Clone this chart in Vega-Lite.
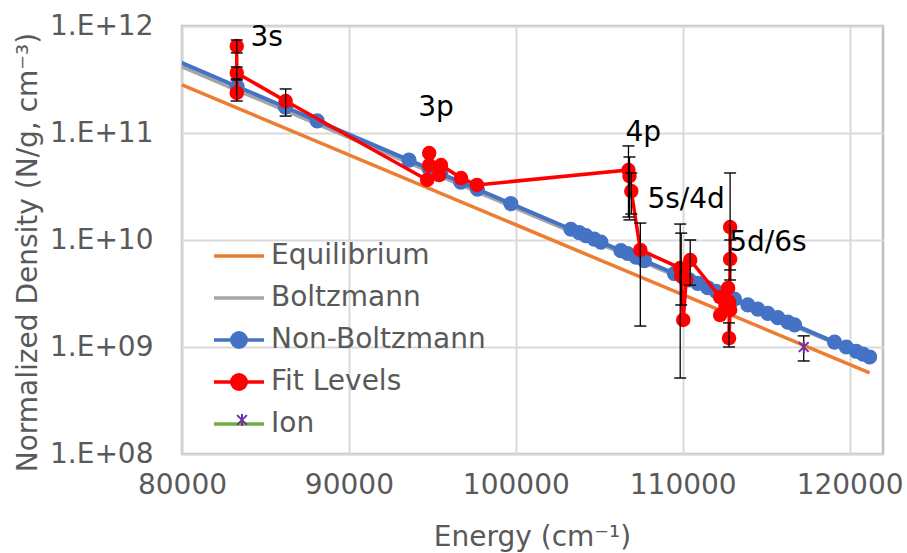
{
  "$schema": "https://vega.github.io/schema/vega-lite/v6.json",
  "width": 701,
  "height": 428,
  "autosize": {"type": "none"},
  "padding": {"left": 182, "top": 26, "right": 24, "bottom": 99},
  "background": "white",
  "config": {
    "view": {"stroke": "#BFBFBF", "strokeWidth": 2.5},
    "axis": {
      "domain": false,
      "ticks": false,
      "grid": true,
      "gridColor": "#D9D9D9",
      "gridWidth": 2,
      "labelFlush": false,
      "labelOverlap": false,
      "labelFont": "DejaVu Sans",
      "labelFontSize": 28,
      "labelColor": "#595959",
      "titleFont": "DejaVu Sans",
      "titleFontSize": 28,
      "titleColor": "#595959",
      "titleFontWeight": "normal"
    }
  },
  "datasets": {
    "main": [
      {"s": "Equilibrium", "E": 80000, "N": 2.81e11, "i": 0},
      {"s": "Equilibrium", "E": 121200, "N": 5.72e8, "i": 1},
      {"s": "Boltzmann", "E": 80000, "N": 4.14e11, "i": 0},
      {"s": "Boltzmann", "E": 121200, "N": 7.88e8, "i": 1},
      {"s": "Non-Boltzmann", "E": 79000, "N": 5.26e11, "i": 0},
      {"s": "Non-Boltzmann", "E": 83300, "N": 2.72e11, "i": 1},
      {"s": "Non-Boltzmann", "E": 86200, "N": 1.74e11, "i": 2},
      {"s": "Non-Boltzmann", "E": 88100, "N": 1.30e11, "i": 3},
      {"s": "Non-Boltzmann", "E": 93600, "N": 5.58e10, "i": 4},
      {"s": "Non-Boltzmann", "E": 94800, "N": 4.65e10, "i": 5},
      {"s": "Non-Boltzmann", "E": 95500, "N": 4.17e10, "i": 6},
      {"s": "Non-Boltzmann", "E": 96700, "N": 3.47e10, "i": 7},
      {"s": "Non-Boltzmann", "E": 97700, "N": 2.98e10, "i": 8},
      {"s": "Non-Boltzmann", "E": 99700, "N": 2.19e10, "i": 9},
      {"s": "Non-Boltzmann", "E": 103300, "N": 1.26e10, "i": 10},
      {"s": "Non-Boltzmann", "E": 103800, "N": 1.17e10, "i": 11},
      {"s": "Non-Boltzmann", "E": 104200, "N": 1.10e10, "i": 12},
      {"s": "Non-Boltzmann", "E": 104700, "N": 1.02e10, "i": 13},
      {"s": "Non-Boltzmann", "E": 105100, "N": 9.55e9, "i": 14},
      {"s": "Non-Boltzmann", "E": 106300, "N": 7.95e9, "i": 15},
      {"s": "Non-Boltzmann", "E": 106700, "N": 7.48e9, "i": 16},
      {"s": "Non-Boltzmann", "E": 107200, "N": 6.92e9, "i": 17},
      {"s": "Non-Boltzmann", "E": 107700, "N": 6.41e9, "i": 18},
      {"s": "Non-Boltzmann", "E": 109500, "N": 4.86e9, "i": 19},
      {"s": "Non-Boltzmann", "E": 110000, "N": 4.51e9, "i": 20},
      {"s": "Non-Boltzmann", "E": 110400, "N": 4.24e9, "i": 21},
      {"s": "Non-Boltzmann", "E": 110900, "N": 3.93e9, "i": 22},
      {"s": "Non-Boltzmann", "E": 111500, "N": 3.58e9, "i": 23},
      {"s": "Non-Boltzmann", "E": 112000, "N": 3.31e9, "i": 24},
      {"s": "Non-Boltzmann", "E": 112500, "N": 3.07e9, "i": 25},
      {"s": "Non-Boltzmann", "E": 113100, "N": 2.80e9, "i": 26},
      {"s": "Non-Boltzmann", "E": 113900, "N": 2.48e9, "i": 27},
      {"s": "Non-Boltzmann", "E": 114500, "N": 2.26e9, "i": 28},
      {"s": "Non-Boltzmann", "E": 115100, "N": 2.06e9, "i": 29},
      {"s": "Non-Boltzmann", "E": 115700, "N": 1.88e9, "i": 30},
      {"s": "Non-Boltzmann", "E": 116300, "N": 1.71e9, "i": 31},
      {"s": "Non-Boltzmann", "E": 116700, "N": 1.61e9, "i": 32},
      {"s": "Non-Boltzmann", "E": 119100, "N": 1.11e9, "i": 33},
      {"s": "Non-Boltzmann", "E": 119800, "N": 1.00e9, "i": 34},
      {"s": "Non-Boltzmann", "E": 120400, "N": 9.12e8, "i": 35},
      {"s": "Non-Boltzmann", "E": 120800, "N": 8.57e8, "i": 36},
      {"s": "Non-Boltzmann", "E": 121200, "N": 8.07e8, "i": 37},
      {"s": "Fit Levels", "E": 83280, "N": 2.37e11, "i": 0},
      {"s": "Fit Levels", "E": 83280, "N": 6.50e11, "i": 1},
      {"s": "Fit Levels", "E": 83280, "N": 3.64e11, "i": 2},
      {"s": "Fit Levels", "E": 86210, "N": 1.99e11, "i": 3},
      {"s": "Fit Levels", "E": 94690, "N": 3.64e10, "i": 4},
      {"s": "Fit Levels", "E": 94810, "N": 6.50e10, "i": 5},
      {"s": "Fit Levels", "E": 94810, "N": 5.02e10, "i": 6},
      {"s": "Fit Levels", "E": 95400, "N": 4.05e10, "i": 7},
      {"s": "Fit Levels", "E": 95520, "N": 5.02e10, "i": 8},
      {"s": "Fit Levels", "E": 96720, "N": 3.79e10, "i": 9},
      {"s": "Fit Levels", "E": 97670, "N": 3.27e10, "i": 10},
      {"s": "Fit Levels", "E": 106750, "N": 4.51e10, "i": 11},
      {"s": "Fit Levels", "E": 106810, "N": 3.96e10, "i": 12},
      {"s": "Fit Levels", "E": 106920, "N": 2.87e10, "i": 13},
      {"s": "Fit Levels", "E": 107460, "N": 8.07e9, "i": 14},
      {"s": "Fit Levels", "E": 109850, "N": 5.47e9, "i": 15},
      {"s": "Fit Levels", "E": 109910, "N": 4.61e9, "i": 16},
      {"s": "Fit Levels", "E": 110030, "N": 1.79e9, "i": 17},
      {"s": "Fit Levels", "E": 110210, "N": 4.23e9, "i": 18},
      {"s": "Fit Levels", "E": 110450, "N": 6.50e9, "i": 19},
      {"s": "Fit Levels", "E": 112240, "N": 2.93e9, "i": 20},
      {"s": "Fit Levels", "E": 112240, "N": 1.99e9, "i": 21},
      {"s": "Fit Levels", "E": 112720, "N": 3.56e9, "i": 22},
      {"s": "Fit Levels", "E": 112775, "N": 2.64e9, "i": 23},
      {"s": "Fit Levels", "E": 112840, "N": 2.22e9, "i": 24},
      {"s": "Fit Levels", "E": 112775, "N": 1.21e9, "i": 25},
      {"s": "Fit Levels", "E": 112840, "N": 6.64e9, "i": 26},
      {"s": "Fit Levels", "E": 112840, "N": 1.32e10, "i": 27},
      {"s": "Ion", "E": 117250, "N": 1.0e9, "i": 0}
    ],
    "err": [
      {"E": 83280, "lo": 1.99e11, "hi": 3.13e11},
      {"E": 83280, "lo": 5.60e11, "hi": 7.40e11},
      {"E": 83280, "lo": 3.20e11, "hi": 4.14e11},
      {"E": 86210, "lo": 1.44e11, "hi": 2.58e11},
      {"E": 106750, "lo": 1.64e10, "hi": 7.57e10},
      {"E": 106810, "lo": 1.54e10, "hi": 5.97e10},
      {"E": 106920, "lo": 1.75e10, "hi": 4.23e10},
      {"E": 107460, "lo": 1.57e9, "hi": 1.44e10},
      {"E": 109850, "lo": 5.13e8, "hi": 1.41e10},
      {"E": 109910, "lo": 2.47e9, "hi": 1.16e10},
      {"E": 110450, "lo": 3.79e9, "hi": 1.0e10},
      {"E": 112840, "lo": 5.25e9, "hi": 4.23e10},
      {"E": 112840, "lo": 4.23e9, "hi": 1.0e10},
      {"E": 112775, "lo": 1.0e9, "hi": 1.68e9},
      {"E": 117250, "lo": 7.40e8, "hi": 1.27e9}
    ],
    "labels": [
      {"label": "3s", "E": 85075, "N": 7.73e11},
      {"label": "3p", "E": 95224, "N": 1.71e11},
      {"label": "4p", "E": 107641, "N": 1.0e11},
      {"label": "5s/4d", "E": 110208, "N": 2.37e10},
      {"label": "5d/6s", "E": 115104, "N": 9.37e9}
    ]
  },
  "data": {"name": "main"},
  "encoding": {
    "x": {
      "field": "E",
      "type": "quantitative",
      "scale": {"domain": [80000, 122000], "nice": false, "zero": false},
      "axis": {
        "values": [80000, 90000, 100000, 110000, 120000],
        "format": "d",
        "labelPadding": 17,
        "title": "Energy (cm⁻¹)",
        "titleX": 350,
        "titleY": 83,
        "titleBaseline": "middle",
        "titleAlign": "center"
      }
    }
  },
  "layer": [
    {
      "transform": [{"filter": "datum.s === 'Equilibrium'"}],
      "mark": {"type": "line", "strokeWidth": 3.5},
      "encoding": {
        "y": {
          "field": "N",
          "type": "quantitative",
          "scale": {"type": "log", "domain": [1e8, 1e12], "nice": false},
          "axis": {"values": [1e8, 1e9, 1e10, 1e11, 1e12], "labelExpr": "'1.E+' + (datum.value < 1e10 ? '0' : '') + format(log(datum.value) / LN10, '.0f')", "labelPadding": 29, "title": "Normalized Density (N/g, cm⁻³)", "titleX": -154, "titleY": 226, "titleAngle": -90, "titleAlign": "center", "titleBaseline": "middle"}
        },
        "stroke": {
          "field": "s",
          "type": "nominal",
          "scale": {
            "domain": ["Equilibrium", "Boltzmann", "Non-Boltzmann", "Fit Levels", "Ion"],
            "range": ["#ED7D31", "#A5A5A5", "#4472C4", "#FF0000", "#70AD47"]
          },
          "legend": {
            "orient": "none",
            "legendX": 30,
            "legendY": 217,
            "title": null,
            "padding": 0,
            "symbolType": "stroke",
            "symbolSize": 2500,
            "symbolStrokeWidth": 3.5,
            "symbolOpacity": 1,
            "clipHeight": 26,
            "rowPadding": 14,
            "labelFont": "DejaVu Sans",
            "labelFontSize": 28,
            "labelColor": "#595959",
            "labelOffset": 5,
            "labelLimit": 400,
            "encode": {
              "symbols": {
                "update": {
                  "shape": {"signal": "datum.value === 'Non-Boltzmann' || datum.value === 'Fit Levels' ? 'M-1,0H1M-0.29,0A0.29,0.29,0,1,1,0.29,0A0.29,0.29,0,1,1,-0.29,0Z' : 'M-1,0H1'"},
                  "fill": {"signal": "datum.value === 'Fit Levels' ? '#FF0000' : (datum.value === 'Non-Boltzmann' ? '#4472C4' : 'transparent')"}
                }
              }
            }
          }
        }
      }
    },
    {
      "transform": [{"filter": "datum.s === 'Boltzmann'"}],
      "mark": {"type": "line", "strokeWidth": 3.5, "color": "#A5A5A5"},
      "encoding": {"y": {"field": "N", "type": "quantitative", "axis": {"values": [1e8, 1e9, 1e10, 1e11, 1e12], "labelExpr": "'1.E+' + (datum.value < 1e10 ? '0' : '') + format(log(datum.value) / LN10, '.0f')", "labelPadding": 29, "title": "Normalized Density (N/g, cm⁻³)", "titleX": -154, "titleY": 226, "titleAngle": -90, "titleAlign": "center", "titleBaseline": "middle"}}}
    },
    {
      "transform": [{"filter": "datum.s === 'Non-Boltzmann'"}],
      "mark": {"type": "line", "strokeWidth": 4, "color": "#4472C4", "clip": true},
      "encoding": {"y": {"field": "N", "type": "quantitative", "axis": {"values": [1e8, 1e9, 1e10, 1e11, 1e12], "labelExpr": "'1.E+' + (datum.value < 1e10 ? '0' : '') + format(log(datum.value) / LN10, '.0f')", "labelPadding": 29, "title": "Normalized Density (N/g, cm⁻³)", "titleX": -154, "titleY": 226, "titleAngle": -90, "titleAlign": "center", "titleBaseline": "middle"}}}
    },
    {
      "transform": [{"filter": "datum.s === 'Non-Boltzmann'"}],
      "mark": {"type": "point", "filled": true, "size": 230, "opacity": 1, "color": "#4472C4", "clip": true},
      "encoding": {"y": {"field": "N", "type": "quantitative", "axis": {"values": [1e8, 1e9, 1e10, 1e11, 1e12], "labelExpr": "'1.E+' + (datum.value < 1e10 ? '0' : '') + format(log(datum.value) / LN10, '.0f')", "labelPadding": 29, "title": "Normalized Density (N/g, cm⁻³)", "titleX": -154, "titleY": 226, "titleAngle": -90, "titleAlign": "center", "titleBaseline": "middle"}}}
    },
    {
      "transform": [{"filter": "datum.s === 'Fit Levels'"}],
      "mark": {"type": "line", "strokeWidth": 3.5, "color": "#FF0000"},
      "encoding": {
        "y": {"field": "N", "type": "quantitative", "axis": {"values": [1e8, 1e9, 1e10, 1e11, 1e12], "labelExpr": "'1.E+' + (datum.value < 1e10 ? '0' : '') + format(log(datum.value) / LN10, '.0f')", "labelPadding": 29, "title": "Normalized Density (N/g, cm⁻³)", "titleX": -154, "titleY": 226, "titleAngle": -90, "titleAlign": "center", "titleBaseline": "middle"}},
        "order": {"field": "i", "type": "quantitative"}
      }
    },
    {
      "transform": [{"filter": "datum.s === 'Fit Levels'"}],
      "mark": {"type": "point", "filled": true, "size": 210, "opacity": 1, "color": "#FF0000"},
      "encoding": {"y": {"field": "N", "type": "quantitative", "axis": {"values": [1e8, 1e9, 1e10, 1e11, 1e12], "labelExpr": "'1.E+' + (datum.value < 1e10 ? '0' : '') + format(log(datum.value) / LN10, '.0f')", "labelPadding": 29, "title": "Normalized Density (N/g, cm⁻³)", "titleX": -154, "titleY": 226, "titleAngle": -90, "titleAlign": "center", "titleBaseline": "middle"}}}
    },
    {
      "data": {"name": "err"},
      "mark": {"type": "rule", "color": "black", "strokeWidth": 1.3},
      "encoding": {
        "y": {"field": "lo", "type": "quantitative", "axis": {"values": [1e8, 1e9, 1e10, 1e11, 1e12], "labelExpr": "'1.E+' + (datum.value < 1e10 ? '0' : '') + format(log(datum.value) / LN10, '.0f')", "labelPadding": 29, "title": "Normalized Density (N/g, cm⁻³)", "titleX": -154, "titleY": 226, "titleAngle": -90, "titleAlign": "center", "titleBaseline": "middle"}},
        "y2": {"field": "hi"}
      }
    },
    {
      "data": {"name": "err"},
      "mark": {"type": "tick", "orient": "horizontal", "color": "black", "size": 12, "thickness": 1.4, "opacity": 1},
      "encoding": {"y": {"field": "lo", "type": "quantitative", "axis": {"values": [1e8, 1e9, 1e10, 1e11, 1e12], "labelExpr": "'1.E+' + (datum.value < 1e10 ? '0' : '') + format(log(datum.value) / LN10, '.0f')", "labelPadding": 29, "title": "Normalized Density (N/g, cm⁻³)", "titleX": -154, "titleY": 226, "titleAngle": -90, "titleAlign": "center", "titleBaseline": "middle"}}}
    },
    {
      "data": {"name": "err"},
      "mark": {"type": "tick", "orient": "horizontal", "color": "black", "size": 12, "thickness": 1.4, "opacity": 1},
      "encoding": {"y": {"field": "hi", "type": "quantitative", "axis": {"values": [1e8, 1e9, 1e10, 1e11, 1e12], "labelExpr": "'1.E+' + (datum.value < 1e10 ? '0' : '') + format(log(datum.value) / LN10, '.0f')", "labelPadding": 29, "title": "Normalized Density (N/g, cm⁻³)", "titleX": -154, "titleY": 226, "titleAngle": -90, "titleAlign": "center", "titleBaseline": "middle"}}}
    },
    {
      "transform": [{"filter": "datum.s === 'Ion'"}],
      "mark": {"type": "point", "filled": false, "size": 150, "strokeWidth": 2, "color": "#7030A0", "opacity": 1},
      "encoding": {
        "y": {"field": "N", "type": "quantitative", "axis": {"values": [1e8, 1e9, 1e10, 1e11, 1e12], "labelExpr": "'1.E+' + (datum.value < 1e10 ? '0' : '') + format(log(datum.value) / LN10, '.0f')", "labelPadding": 29, "title": "Normalized Density (N/g, cm⁻³)", "titleX": -154, "titleY": 226, "titleAngle": -90, "titleAlign": "center", "titleBaseline": "middle"}},
        "shape": {
          "field": "s",
          "type": "nominal",
          "scale": {"domain": ["Ion"], "range": ["M0,-1V1M-0.8,-0.8L0.8,0.8M-0.8,0.8L0.8,-0.8"]},
          "legend": {
            "orient": "none",
            "legendX": 46,
            "legendY": 381,
            "title": null,
            "padding": 0,
            "symbolSize": 150,
            "symbolStrokeColor": "#7030A0",
            "symbolFillColor": "transparent",
            "symbolStrokeWidth": 2,
            "symbolOpacity": 1,
            "clipHeight": 26,
            "labelExpr": "''",
            "labelFontSize": 28
          }
        }
      }
    },
    {
      "data": {"name": "labels"},
      "mark": {"type": "text", "font": "DejaVu Sans", "fontSize": 28, "color": "black", "align": "center", "baseline": "middle"},
      "encoding": {
        "y": {"field": "N", "type": "quantitative", "axis": {"values": [1e8, 1e9, 1e10, 1e11, 1e12], "labelExpr": "'1.E+' + (datum.value < 1e10 ? '0' : '') + format(log(datum.value) / LN10, '.0f')", "labelPadding": 29, "title": "Normalized Density (N/g, cm⁻³)", "titleX": -154, "titleY": 226, "titleAngle": -90, "titleAlign": "center", "titleBaseline": "middle"}},
        "text": {"field": "label", "type": "nominal"}
      }
    }
  ]
}
